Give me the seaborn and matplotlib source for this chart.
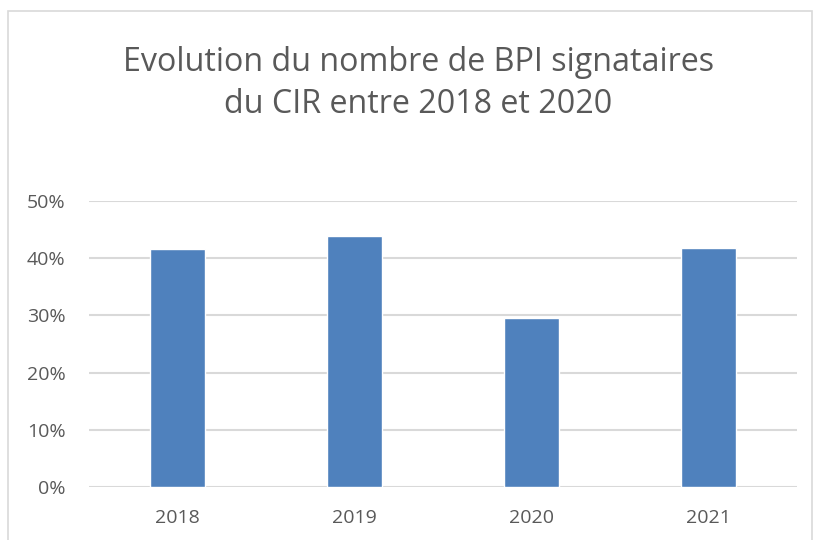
import matplotlib
matplotlib.use("Agg")
import matplotlib.pyplot as plt
import matplotlib.patches as patches
from matplotlib.ticker import PercentFormatter
import seaborn as sns
import pandas as pd

years = ["2018", "2019", "2020", "2021"]
shares = [0.416, 0.439, 0.295, 0.418]

TEXT = "#595959"
GRID = "#D9D9D9"
BAR = "#4F81BD"

sns.set_style("white")
plt.rcParams["font.family"] = ["Open Sans", "DejaVu Sans"]

df = pd.DataFrame({"year": years, "share": shares})

fig = plt.figure(figsize=(8.15, 5.4), dpi=100)
ax = fig.add_axes([89 / 815, 1 - 486.7 / 540, 708 / 815, 285.4 / 540])

sns.barplot(data=df, x="year", y="share", color=BAR, saturation=1,
            width=0.31, ax=ax, zorder=3)

ax.set_ylim(0, 0.5)
ax.set_yticks([0, 0.1, 0.2, 0.3, 0.4, 0.5])
ax.yaxis.set_major_formatter(PercentFormatter(1.0, decimals=0))
ax.grid(axis="y", color=GRID, linewidth=1.5, zorder=0)
ax.set_axisbelow(True)
for s in ax.spines.values():
    s.set_visible(False)
ax.tick_params(axis="both", length=0, colors=TEXT, labelsize=14)
ax.tick_params(axis="y", pad=17)
ax.tick_params(axis="x", pad=16)
ax.set_xlabel("")
ax.set_ylabel("")

fig.text(0.513, 1 - 83.5 / 540,
         "Evolution du nombre de BPI signataires\ndu CIR entre 2018 et 2020",
         ha="center", va="center", fontsize=23.2, color=TEXT, linespacing=1.36)

# chart frame
fig.patches.append(patches.Rectangle((8 / 815, -0.05), 804 / 815, 1.05 - 11 / 540,
                                     transform=fig.transFigure, fill=False,
                                     edgecolor="#D9D9D9", linewidth=1.2))

fig.savefig("out.png", dpi=100)
